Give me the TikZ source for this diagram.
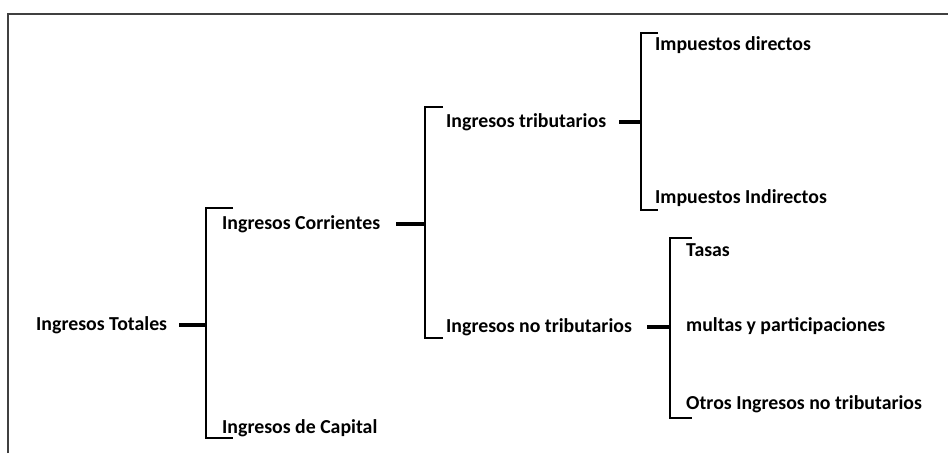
\documentclass[tikz,border=0pt]{standalone}
\usepackage{fontspec}
\setmainfont{Carlito}

\begin{document}
\begin{tikzpicture}[
  x=1pt, y=-1pt,
  lbl/.style={anchor=west, inner sep=0pt, font=\fontsize{19.8}{21}\selectfont\bfseries},
  brk/.style={line width=2.6pt},
  tck/.style={line width=3.6pt},
  frm/.style={line width=1.4pt, black!75},
]

\useasboundingbox (0,0) rectangle (948,453);
\draw [frm] (8,453) -- (8,14) -- (948,14);

% level 0 and 1
\node [lbl] (it) at (36,325) {Ingresos Totales};
\node [lbl] (ic) at (222,224) {Ingresos Corrientes};
\node [lbl] (icap) at (222,428) {Ingresos de Capital};

\coordinate (b1m) at (206,325);
\coordinate (b1t) at (233,208);
\coordinate (b1b) at (233,438);
\draw [tck] ([xshift=12pt]it.east) -- (b1m);
\draw [brk] (b1t) -| (b1m) |- (b1b);

% level 2
\node [lbl] (itr) at (446,122) {Ingresos tributarios};
\node [lbl] (inotr) at (446,327) {Ingresos no tributarios};

\coordinate (b2m) at (425,224);
\coordinate (b2t) at (443,107);
\coordinate (b2b) at (443,338);
\draw [tck] ([xshift=16pt]ic.east) -- (b2m);
\draw [brk] (b2t) -| (b2m) |- (b2b);

% level 3, tributarios
\node [lbl] (idir) at (655,45) {Impuestos directos};
\node [lbl] (iind) at (655,198) {Impuestos Indirectos};

\coordinate (b3m) at (641,122);
\coordinate (b3t) at (658,33);
\coordinate (b3b) at (658,210);
\draw [tck] ([xshift=13pt]itr.east) -- (b3m);
\draw [brk] (b3t) -| (b3m) |- (b3b);

% level 3, no tributarios
\node [lbl] (tasas) at (686,250) {Tasas};
\node [lbl] (multas) at (686,326) {multas y participaciones};
\node [lbl] (otros) at (686,404) {Otros Ingresos no tributarios};

\coordinate (b4m) at (670,327);
\coordinate (b4t) at (692,238);
\coordinate (b4b) at (692,418);
\draw [tck] ([xshift=15pt]inotr.east) -- (b4m);
\draw [brk] (b4t) -| (b4m) |- (b4b);

\end{tikzpicture}
\end{document}
